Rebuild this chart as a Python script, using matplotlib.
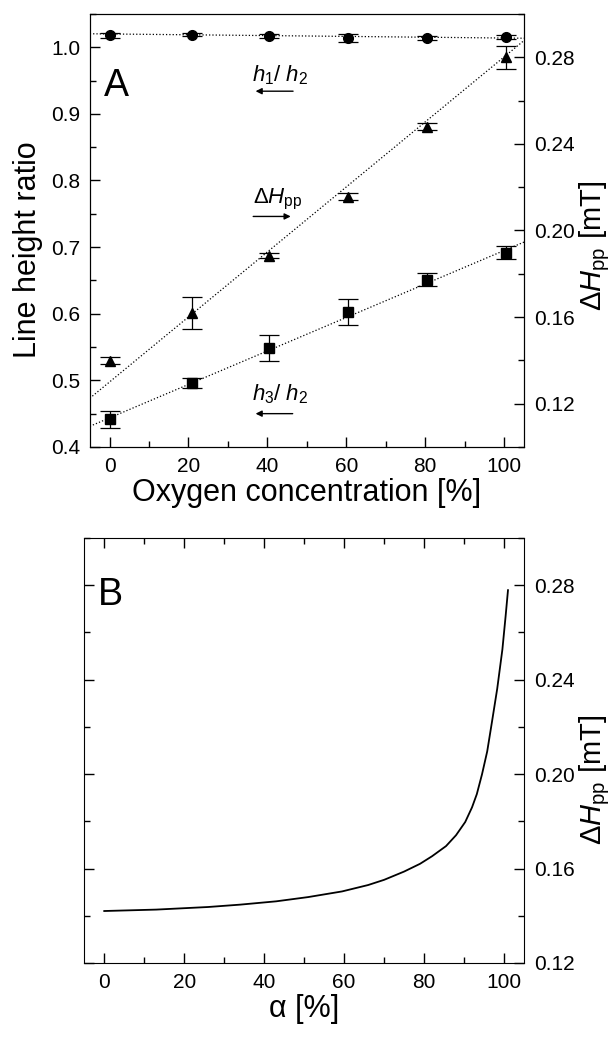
import numpy as np
import matplotlib
matplotlib.use("Agg")
import matplotlib.pyplot as plt
from matplotlib.ticker import MultipleLocator

plt.rcParams['font.family'] = ['Liberation Sans', 'DejaVu Sans']
plt.rcParams['mathtext.fontset'] = 'custom'
plt.rcParams['mathtext.rm'] = 'Liberation Sans'
plt.rcParams['mathtext.it'] = 'Liberation Sans:italic'

###############################################################################
# Dane.
###############################################################################

# Panel A - stezenie tlenu [%]
conc = [0, 21, 40.5, 60.5, 80.5, 100.5]

# h1/h2 (lewa os)
h1h2 = [1.018, 1.019, 1.0175, 1.0135, 1.0145, 1.0155]
h1h2_err = [0.004, 0.002, 0.003, 0.006, 0.003, 0.003]

# h3/h2 (lewa os)
h3h2 = [0.4415, 0.496, 0.5485, 0.6025, 0.651, 0.6915]
h3h2_err = [0.013, 0.008, 0.02, 0.02, 0.01, 0.01]

# Delta H_pp [mT] (prawa os)
dhpp = [0.1398, 0.1619, 0.1884, 0.2156, 0.2479, 0.2800]
dhpp_err = [0.0017, 0.0073, 0.001, 0.0015, 0.0015, 0.0054]

# proste dopasowane (punkty koncowe)
fit_x = [-5, 105]
fit_h1h2 = [1.0202, 1.0135]
fit_h3h2 = [0.431, 0.7075]
fit_dhpp = [0.1225, 0.2877]

# Panel B - alpha [%] i Delta H_pp [mT]
alpha = [0, 13, 26, 34, 43, 51, 59.5, 66, 70, 75, 79, 82, 85.5, 88, 90.3,
         92, 93.2, 94.5, 95.8, 97, 98.3, 99.6, 100.4, 101]
dh_alpha = [0.1420, 0.1426, 0.1437, 0.1447, 0.1461, 0.1479, 0.1503, 0.1530,
            0.1552, 0.1587, 0.1620, 0.1652, 0.1695, 0.1741, 0.1797, 0.1859,
            0.1915, 0.1999, 0.2096, 0.2222, 0.2361, 0.2528, 0.2668, 0.2779]

###############################################################################
# Wykres.
###############################################################################

fig = plt.figure(figsize=(6.15, 10.38), dpi=100)

tick_kw = dict(direction="in", labelsize=15, pad=7, width=1)

# ---- Panel A ----
ax = fig.add_axes([0.146, 0.5694, 0.706, 0.4172])
ax2 = ax.twinx()

ax.set_xlim(-5, 105)
ax.set_ylim(0.4, 1.05)
ax2.set_ylim(0.1, 0.3)

ax.xaxis.set_major_locator(MultipleLocator(20))
ax.xaxis.set_minor_locator(MultipleLocator(10))
ax.yaxis.set_major_locator(MultipleLocator(0.1))
ax.yaxis.set_minor_locator(MultipleLocator(0.05))
ax2.set_yticks([0.12, 0.16, 0.20, 0.24, 0.28])
ax2.yaxis.set_minor_locator(MultipleLocator(0.02))

ax.tick_params(which="both", top=False, right=False, **tick_kw)
ax.tick_params(which="major", length=7)
ax.tick_params(which="minor", length=4)
ax2.tick_params(which="both", **tick_kw)
ax2.tick_params(which="major", length=7)
ax2.tick_params(which="minor", length=4)
ax.yaxis.set_major_formatter(plt.FormatStrFormatter("%.1f"))
ax2.yaxis.set_major_formatter(plt.FormatStrFormatter("%.2f"))

ax.plot(fit_x, fit_h1h2, ":", color="black", lw=0.9)
ax.plot(fit_x, fit_h3h2, ":", color="black", lw=0.9)
ax2.plot(fit_x, fit_dhpp, ":", color="black", lw=0.9)

eb = dict(color="black", ecolor="black", elinewidth=0.9, capsize=7,
          capthick=0.9, linestyle="none", markersize=7)
ax.errorbar(conc, h1h2, yerr=h1h2_err, fmt="o", **eb)
ax.errorbar(conc, h3h2, yerr=h3h2_err, fmt="s", **eb)
ax2.errorbar(conc, dhpp, yerr=dhpp_err, fmt="^", **eb)

ax.set_xlabel("Oxygen concentration [%]", fontsize=22, labelpad=2)
ax.set_ylabel("Line height ratio", fontsize=22, labelpad=6)
ax.yaxis.label.set_y(0.455)
ax2.set_ylabel(r"$\Delta H_{\rm pp}$ [mT]", fontsize=21, labelpad=2)
ax2.yaxis.label.set_y(0.465)

ax.text(-1.5, 0.927, "A", fontsize=27, ha="left", va="baseline")
ax.text(36, 0.958, r"$h_1$/ $h_2$", fontsize=16, ha="left", va="center")
ax.text(36.4, 0.771, r"$\Delta H_{\rm pp}$", fontsize=16, ha="left", va="center")
ax.text(36, 0.4785, r"$h_3$/ $h_2$", fontsize=16, ha="left", va="center")

arrow = dict(arrowstyle="-|>", color="black", lw=1, mutation_scale=9,
             shrinkA=0, shrinkB=0)
ax.annotate("", xy=(37, 0.934), xytext=(46.5, 0.934), arrowprops=arrow)
ax.annotate("", xy=(45.9, 0.746), xytext=(36.4, 0.746), arrowprops=arrow)
ax.annotate("", xy=(37, 0.45), xytext=(46.4, 0.45), arrowprops=arrow)

# ---- Panel B ----
bx = fig.add_axes([0.137, 0.0723, 0.715, 0.4094])
bx.set_xlim(-5, 105)
bx.set_ylim(0.12, 0.30)
bx.xaxis.set_major_locator(MultipleLocator(20))
bx.xaxis.set_minor_locator(MultipleLocator(10))
bx.set_yticks([0.12, 0.16, 0.20, 0.24, 0.28])
bx.yaxis.set_minor_locator(MultipleLocator(0.02))
bx.yaxis.set_major_formatter(plt.FormatStrFormatter("%.2f"))
bx.tick_params(which="both", top=True, right=True, labelleft=False,
               labelright=True, **tick_kw)
bx.tick_params(which="major", length=7)
bx.tick_params(which="minor", length=4)

bx.plot(alpha, dh_alpha, "-", color="black", lw=1.3)

bx.set_xlabel("α [%]", fontsize=22, labelpad=2)
bx.yaxis.set_label_position("right")
bx.set_ylabel(r"$\Delta H_{\rm pp}$ [mT]", fontsize=21, labelpad=2)
bx.yaxis.label.set_y(0.43)
bx.text(-1.5, 0.2715, "B", fontsize=27, ha="left", va="baseline")

fig.savefig("out.png", dpi=100)
